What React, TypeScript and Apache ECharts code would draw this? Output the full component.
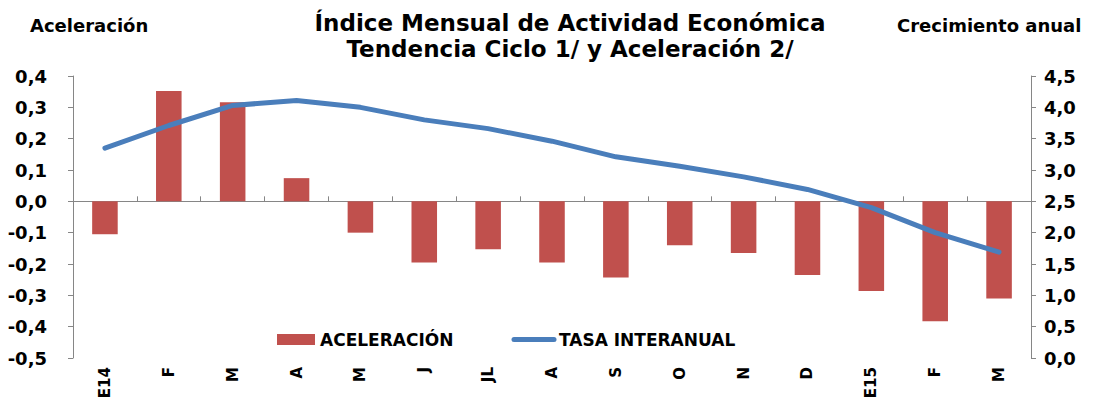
import React, { useEffect, useRef } from "react";
import * as echarts from "echarts";

const categories = ["E14", "F", "M", "A", "M", "J", "JL", "A", "S", "O", "N", "D", "E15", "F", "M"];
const aceleracion = [-0.105, 0.352, 0.316, 0.074, -0.1, -0.195, -0.153, -0.195, -0.243, -0.14, -0.165, -0.235, -0.286, -0.383, -0.31];
const tasaInteranual = [3.35, 3.71, 4.03, 4.11, 4.0, 3.8, 3.66, 3.46, 3.21, 3.06, 2.89, 2.69, 2.4, 2.0, 1.69];
const legendNames = ["ACELERACIÓN", "TASA INTERANUAL"];

const FONT = "DejaVu Sans";
const AXIS_COLOR = "#868686";
const BAR_COLOR = "#C0504D";
const LINE_COLOR = "#4A7EBB";

export default function App() {
  const ref = useRef<HTMLDivElement>(null);
  useEffect(() => {
    if (!ref.current) return;
    const chart = echarts.init(ref.current, null, { renderer: "svg" });
    const fmt = (v: number) => v.toFixed(1).replace(".", ",").replace("-0,0", "0,0");
    const legendFont = { fontFamily: FONT, fontWeight: "bold", fontSize: 17, fill: "#000" };
    chart.setOption({
      animation: false,
      backgroundColor: "#ffffff",
      textStyle: { fontFamily: FONT },
      title: [
        {
          text: "Índice Mensual de Actividad Económica\nTendencia Ciclo 1/ y Aceleración 2/",
          left: 565,
          top: 5,
          textAlign: "center",
          textStyle: { fontFamily: FONT, fontWeight: "bold", fontSize: 23, lineHeight: 26, color: "#000" },
        },
        {
          text: "Aceleración",
          left: 25,
          top: 11,
          textStyle: { fontFamily: FONT, fontWeight: "bold", fontSize: 18, color: "#000" },
        },
        {
          text: "Crecimiento anual",
          left: 892,
          top: 11,
          textStyle: { fontFamily: FONT, fontWeight: "bold", fontSize: 18, color: "#000" },
        },
      ],
      graphic: [
        { type: "rect", shape: { x: 277, y: 334, width: 38, height: 11 }, style: { fill: BAR_COLOR } },
        { type: "text", x: 320, y: 339.5, style: { ...legendFont, text: legendNames[0], textVerticalAlign: "middle", verticalAlign: "middle" } },
        { type: "line", shape: { x1: 514, y1: 339.5, x2: 554, y2: 339.5 }, style: { stroke: LINE_COLOR, lineWidth: 5, lineCap: "round" } },
        { type: "text", x: 559, y: 339.5, style: { ...legendFont, text: legendNames[1], textVerticalAlign: "middle", verticalAlign: "middle" } },
      ],
      grid: { left: 73, right: 70, top: 76, bottom: 44, containLabel: false },
      xAxis: [
        {
          type: "category",
          data: categories,
          position: "bottom",
          axisLine: { onZero: true, lineStyle: { color: AXIS_COLOR, width: 1 } },
          axisTick: { show: true, inside: true, length: 5, lineStyle: { color: AXIS_COLOR } },
          axisLabel: { show: false },
          splitLine: { show: false },
        },
        {
          type: "category",
          data: categories,
          position: "bottom",
          axisLine: { show: false, onZero: false },
          axisTick: { show: false },
          axisLabel: {
            show: true,
            rotate: 90,
            margin: 9,
            fontFamily: FONT,
            fontWeight: "bold",
            fontSize: 15,
            color: "#000",
          },
          splitLine: { show: false },
        },
      ],
      yAxis: [
        {
          type: "value",
          min: -0.5,
          max: 0.4,
          interval: 0.1,
          position: "left",
          axisLine: { show: true, lineStyle: { color: AXIS_COLOR } },
          axisTick: { show: true, length: 5, lineStyle: { color: AXIS_COLOR } },
          splitLine: { show: false },
          axisLabel: {
            formatter: fmt,
            margin: 26,
            fontFamily: FONT,
            fontWeight: "bold",
            fontSize: 18,
            color: "#000",
          },
        },
        {
          type: "value",
          min: 0,
          max: 4.5,
          interval: 0.5,
          position: "right",
          axisLine: { show: true, lineStyle: { color: AXIS_COLOR } },
          axisTick: { show: true, length: 5, lineStyle: { color: AXIS_COLOR } },
          splitLine: { show: false },
          axisLabel: {
            formatter: fmt,
            margin: 13,
            fontFamily: FONT,
            fontWeight: "bold",
            fontSize: 18,
            color: "#000",
          },
        },
      ],
      series: [
        {
          name: legendNames[0],
          type: "bar",
          xAxisIndex: 0,
          yAxisIndex: 0,
          data: aceleracion,
          barWidth: "40%",
          itemStyle: { color: BAR_COLOR },
        },
        {
          name: legendNames[1],
          type: "line",
          xAxisIndex: 0,
          yAxisIndex: 1,
          data: tasaInteranual,
          symbol: "none",
          showSymbol: false,
          lineStyle: { color: LINE_COLOR, width: 5, cap: "round", join: "round" },
          itemStyle: { color: LINE_COLOR },
        },
      ],
    });
    return () => chart.dispose();
  }, []);
  return <div ref={ref} style={{ position: "absolute", left: 0, top: 0, width: 1101, height: 402 }} />;
}
